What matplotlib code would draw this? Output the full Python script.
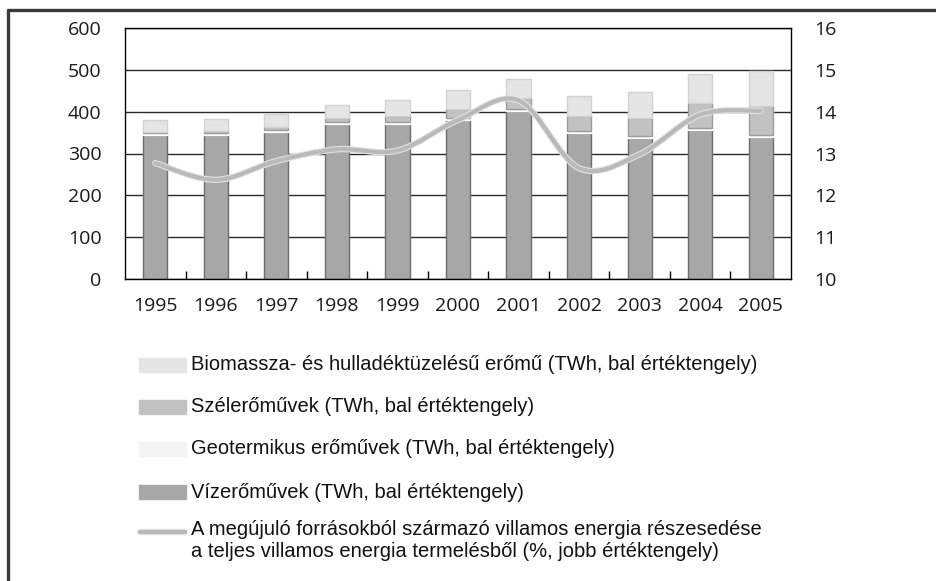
import numpy as np
import matplotlib
matplotlib.use("Agg")
import matplotlib.pyplot as plt
import matplotlib.patheffects as pe
from matplotlib.path import Path
from matplotlib.patches import PathPatch, Rectangle
from matplotlib.lines import Line2D

years = ["1995", "1996", "1997", "1998", "1999", "2000",
         "2001", "2002", "2003", "2004", "2005"]

# TWh, left axis
hydro = [345, 345, 351, 371, 371, 379, 401, 349, 337, 357, 339]
geothermal = [4, 4, 5, 5, 5, 5, 5, 5, 5, 5, 5]
wind = [3, 4, 8, 10, 13, 22, 27, 35, 44, 58, 70]
biomass = [27, 29, 30, 31, 39, 45, 45, 49, 62, 70, 83]

# % share, right axis
share = [12.77, 12.37, 12.82, 13.10, 13.07, 13.80, 14.27, 12.65, 12.98, 13.93, 14.02]

labels = [
    "Biomassza- és hulladéktüzelésű erőmű (TWh, bal értéktengely)",
    "Szélerőművek (TWh, bal értéktengely)",
    "Geotermikus erőművek (TWh, bal értéktengely)",
    "Vízerőművek (TWh, bal értéktengely)",
    "A megújuló forrásokból származó villamos energia részesedése\n"
    "a teljes villamos energia termelésből (%, jobb értéktengely)",
]

W, H = 936, 581
TICK_FONT = ["Open Sans", "DejaVu Sans"]
TEXT_FONT = ["Liberation Sans", "DejaVu Sans"]

styles = {
    "hydro": dict(color="#a7a7a7", edgecolor="#6e6e6e"),
    "geo": dict(color="#f4f4f4", edgecolor="#ffffff"),
    "wind": dict(color="#c2c2c2", edgecolor="#9c9c9c"),
    "bio": dict(color="#e5e5e5", edgecolor="#d2d2d2"),
}
line_color = "#b9b9b9"


def smooth_path(xs, ys, tension=1 / 6):
    """Cubic Bezier path through the points (Catmull-Rom style smoothing)."""
    pts = np.column_stack([xs, ys]).astype(float)
    verts = [pts[0]]
    codes = [Path.MOVETO]
    n = len(pts)
    for i in range(n - 1):
        p0 = pts[i - 1] if i > 0 else pts[i]
        p1 = pts[i]
        p2 = pts[i + 1]
        p3 = pts[i + 2] if i + 2 < n else pts[i + 1]
        c1 = p1 + (p2 - p0) * tension
        c2 = p2 - (p3 - p1) * tension
        verts += [c1, c2, p2]
        codes += [Path.CURVE4] * 3
    return Path(verts, codes)


def fx(x):
    return x / W


def fy(y):
    return 1 - y / H


fig = plt.figure(figsize=(W / 100, H / 100), dpi=100)
ax = fig.add_axes([fx(125), fy(279), fx(791) - fx(125), fy(28) - fy(279)])

x = np.arange(len(years))
width = 0.4
bottom = np.zeros(len(years))
for key, vals in [("hydro", hydro), ("geo", geothermal), ("wind", wind), ("bio", biomass)]:
    ax.bar(x, vals, width, bottom=bottom, linewidth=1, zorder=2, **styles[key])
    bottom += np.array(vals)

ax.set_xlim(-0.5, len(years) - 0.5)
ax.set_ylim(0, 600)
ax.set_yticks(range(0, 601, 100))
ax.set_xticks(x)
ax.set_xticklabels(years)
ax.set_xticks(x[:-1] + 0.5, minor=True)
ax.tick_params(axis="x", which="major", length=0, pad=13)
ax.tick_params(axis="x", which="minor", direction="in", length=6, width=1, color="black")
ax.tick_params(axis="y", length=0, pad=17)
for lab in ax.get_xticklabels() + ax.get_yticklabels():
    lab.set_fontfamily(TICK_FONT)
    lab.set_fontsize(14)
    lab.set_color("#1a1a1a")
ax.yaxis.grid(True, color="#2a2a2a", linewidth=1)
ax.set_axisbelow(True)
for s in ax.spines.values():
    s.set_color("black")
    s.set_linewidth(1)

ax2 = ax.twinx()
ax2.set_ylim(10, 16)
ax2.set_yticks(range(10, 17))
ax2.tick_params(axis="y", length=0, pad=17)
for lab in ax2.get_yticklabels():
    lab.set_fontfamily(TICK_FONT)
    lab.set_fontsize(14)
    lab.set_color("#1a1a1a")
for s in ax2.spines.values():
    s.set_visible(False)

curve = PathPatch(smooth_path(x, share), facecolor="none", edgecolor=line_color,
                  linewidth=3, capstyle="round", zorder=3,
                  path_effects=[pe.Stroke(linewidth=4.6, foreground="#e2e2e2"), pe.Normal()])
ax2.add_patch(curve)

# legend, drawn at figure level
rows = [365, 407, 449, 492]
keys = ["bio", "wind", "geo", "hydro"]
for key, yc, lab in zip(keys, rows, labels[:4]):
    fig.add_artist(Rectangle((fx(139), fy(yc + 7)), fx(186) - fx(139), fy(yc - 7) - fy(yc + 7),
                             transform=fig.transFigure, linewidth=1, **styles[key]))
    fig.text(fx(191), fy(yc), lab, family=TEXT_FONT, fontsize=14.5, va="center", ha="left",
             color="#111111")

yl = 532
fig.add_artist(Line2D([fx(140), fx(185)], [fy(yl), fy(yl)], transform=fig.transFigure,
                      color=line_color, linewidth=3, solid_capstyle="round",
                      path_effects=[pe.Stroke(linewidth=4.6, foreground="#e2e2e2"), pe.Normal()]))
fig.text(fx(191), fy(yl - 12), labels[4], family=TEXT_FONT, fontsize=14.5, va="top", ha="left",
         color="#111111", linespacing=1.2)

# outer frame (top and left edges)
fig.add_artist(Line2D([fx(7), fx(W)], [fy(9.5), fy(9.5)], transform=fig.transFigure,
                      color="#3a3a3a", linewidth=2.4, solid_capstyle="butt"))
fig.add_artist(Line2D([fx(8), fx(8)], [fy(8.5), fy(H)], transform=fig.transFigure,
                      color="#3a3a3a", linewidth=2.4, solid_capstyle="butt"))

fig.savefig("out.png", dpi=100)
